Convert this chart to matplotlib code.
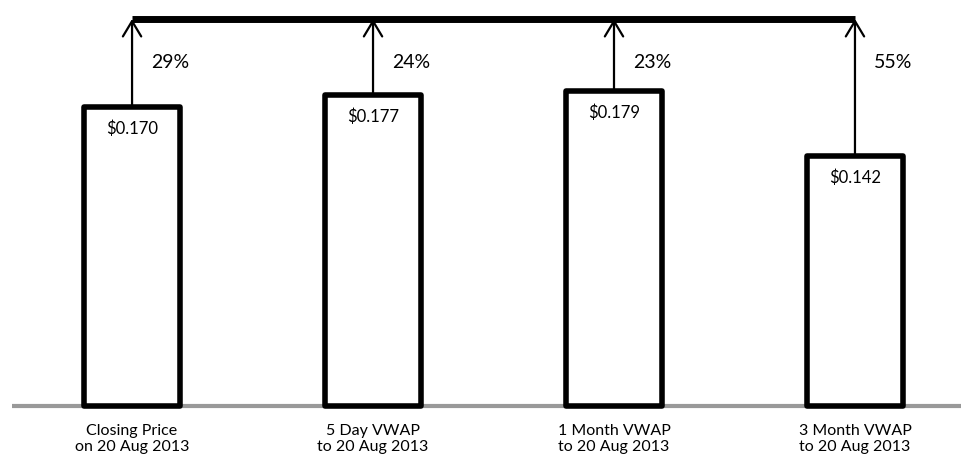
import matplotlib.pyplot as plt

categories = ['Closing Price\non 20 Aug 2013', '5 Day VWAP\nto 20 Aug 2013',
              '1 Month VWAP\nto 20 Aug 2013', '3 Month VWAP\nto 20 Aug 2013']
prices = [0.170, 0.177, 0.179, 0.142]
premiums = ['29%', '24%', '23%', '55%']
offer = 0.22

plt.rcParams['font.family'] = ['Lato', 'DejaVu Sans']

fig = plt.figure(figsize=(9.61, 4.61), dpi=100)
ax = fig.add_axes([0, 0, 1, 1])
ax.set_xlim(-0.548, 3.44)
ax.set_ylim(-0.0313, 0.2308)
ax.axis('off')

x = list(range(len(prices)))

# gray baseline
ax.plot([-0.50, 3.44], [0, 0], color='#999999', lw=3, zorder=1, solid_capstyle='butt')

bars = ax.bar(x, prices, width=0.40, facecolor='white', edgecolor='black', linewidth=4, zorder=2)
for b in bars:
    b.set_joinstyle('round')

# offer price line
ax.plot([x[0], x[-1]], [offer, offer], color='black', lw=5, zorder=3, solid_capstyle='butt')

for xi, p, pct, cat in zip(x, prices, premiums, categories):
    ax.annotate('', xy=(xi, offer), xytext=(xi, p),
                arrowprops=dict(arrowstyle='->,head_length=0.5,head_width=0.3', lw=1.6,
                                color='black', shrinkA=0, shrinkB=0, mutation_scale=22),
                zorder=3)
    ax.text(xi + 0.08, 0.195, pct, fontsize=14, va='center', ha='left')
    ax.text(xi, p - 0.0125, '$%.3f' % p, fontsize=12, va='center', ha='center')
    ax.text(xi, -0.0100, cat, fontsize=11.5, va='top', ha='center', linespacing=1.25)

fig.savefig('out.png', dpi=100)
